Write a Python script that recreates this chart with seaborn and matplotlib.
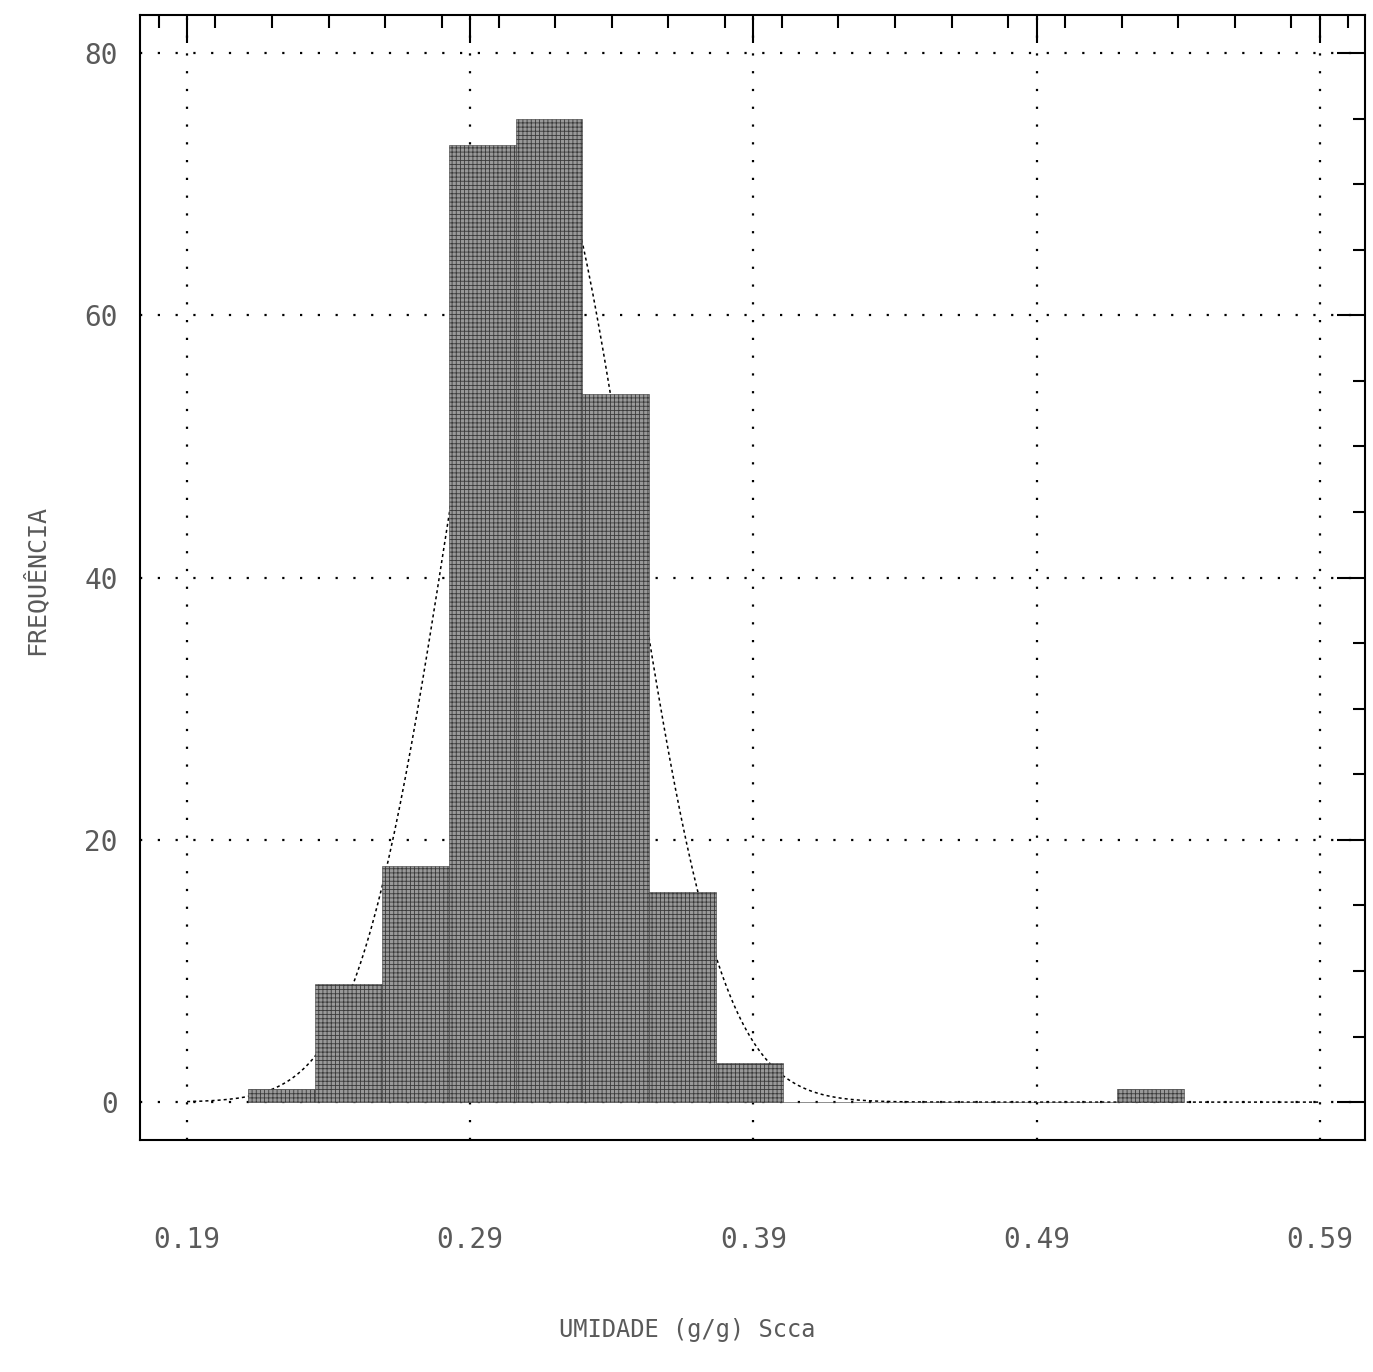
import numpy as np
import matplotlib
matplotlib.use('Agg')
import matplotlib.pyplot as plt
from matplotlib.ticker import MultipleLocator, FixedLocator
import seaborn as sns

sns.set_style('white')
plt.rcParams['font.family'] = ['DejaVu Sans Mono']
plt.rcParams['hatch.linewidth'] = 0.6

# histogram
bin_start = 0.2116
bin_width = 0.0236
counts = [1, 9, 18, 73, 75, 54, 16, 3, 0, 0, 0, 0, 0, 1]
x_ticks = [0.19, 0.29, 0.39, 0.49, 0.59]
x_labels = ['0.19', '0.29', '0.39', '0.49', '0.59']
y_ticks = [0, 20, 40, 60, 80]

edges = bin_start + bin_width * np.arange(len(counts) + 1)
centers = edges[:-1] + bin_width / 2
samples = np.repeat(centers, counts)

# fitted normal curve scaled to counts
mu, sd = samples.mean(), samples.std()
xs = np.linspace(x_ticks[0], x_ticks[-1], 400)
ys = len(samples) * bin_width * np.exp(-0.5 * ((xs - mu) / sd) ** 2) / (sd * np.sqrt(2 * np.pi))

fig = plt.figure(figsize=(13.73, 13.72), dpi=100)
ax = fig.add_axes([0.102, 0.169, 0.892, 0.82])

for v in x_ticks:
    ax.axvline(v, color='black', lw=1.6, ls=(0, (1, 7)), zorder=0.5)
for v in y_ticks:
    ax.axhline(v, color='black', lw=1.6, ls=(0, (1, 7)), zorder=0.5)

ax.plot(xs, ys, color='black', lw=1.1, ls=(0, (2, 2)), zorder=1)
sns.histplot(x=samples, bins=edges, stat='count', color='#999999', edgecolor='#3a3a3a',
             hatch='++++', linewidth=0.4, alpha=1, ax=ax, zorder=2)

ax.set_xlim(0.1734, 0.6059)
ax.set_ylim(-2.9, 82.9)

ax.xaxis.set_major_locator(FixedLocator(x_ticks))
ax.xaxis.set_minor_locator(MultipleLocator(0.02))
ax.yaxis.set_major_locator(FixedLocator(y_ticks))
ax.yaxis.set_minor_locator(MultipleLocator(5))
ax.set_xticklabels(x_labels)
ax.tick_params(which='both', direction='in', top=True, right=True, color='black', width=1.5)
ax.tick_params(which='major', length=20)
ax.tick_params(which='minor', length=9)
ax.tick_params(axis='x', which='major', pad=62, labelsize=20, labelcolor='#5a5a5a')
ax.tick_params(axis='y', which='major', pad=16, labelsize=20, labelcolor='#5a5a5a')

for s in ax.spines.values():
    s.set_color('black')
    s.set_linewidth(1.5)

ax.set_xlabel('UMIDADE (g/g) Scca', fontsize=17, color='#5a5a5a')
ax.set_ylabel('FREQUÊNCIA', fontsize=18, color='#5a5a5a')
ax.xaxis.set_label_coords(0.447, -0.158)
ax.yaxis.set_label_coords(-0.075, 0.498)

fig.savefig('out.png', dpi=100)
plt.close(fig)
